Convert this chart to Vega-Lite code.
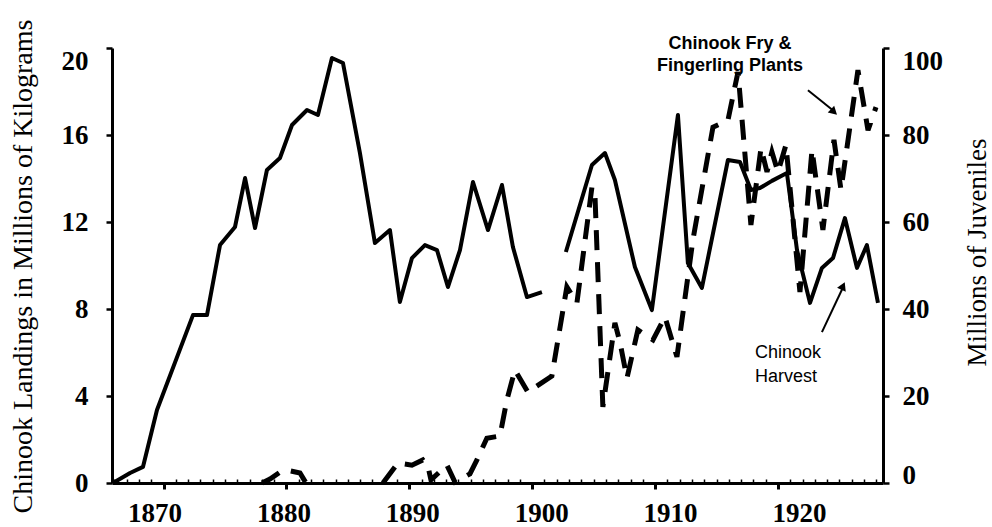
{
  "$schema": "https://vega.github.io/schema/vega-lite/v6.json",
  "width": 771,
  "height": 435,
  "autosize": {"type": "none"},
  "padding": {"left": 112, "top": 48, "right": 109, "bottom": 44},
  "background": "white",
  "config": {
    "view": {"stroke": null},
    "axis": {"grid": false, "domainColor": "black", "tickColor": "black", "labelColor": "black", "titleColor": "black"}
  },
  "datasets": {
    "harvest": [
      {"year": 1865.88, "landings": 0, "run": 1},
      {"year": 1867.27, "landings": 0.46, "run": 1},
      {"year": 1868.32, "landings": 0.74, "run": 1},
      {"year": 1869.46, "landings": 3.36, "run": 1},
      {"year": 1872.39, "landings": 7.72, "run": 1},
      {"year": 1873.53, "landings": 7.72, "run": 1},
      {"year": 1874.59, "landings": 10.94, "run": 1},
      {"year": 1875.81, "landings": 11.77, "run": 1},
      {"year": 1876.63, "landings": 14.02, "run": 1},
      {"year": 1877.44, "landings": 11.72, "run": 1},
      {"year": 1878.41, "landings": 14.39, "run": 1},
      {"year": 1879.47, "landings": 14.94, "run": 1},
      {"year": 1880.45, "landings": 16.46, "run": 1},
      {"year": 1881.67, "landings": 17.15, "run": 1},
      {"year": 1882.56, "landings": 16.92, "run": 1},
      {"year": 1883.7, "landings": 19.54, "run": 1},
      {"year": 1884.6, "landings": 19.31, "run": 1},
      {"year": 1885.98, "landings": 15.17, "run": 1},
      {"year": 1887.2, "landings": 11.03, "run": 1},
      {"year": 1888.42, "landings": 11.63, "run": 1},
      {"year": 1889.23, "landings": 8.32, "run": 1},
      {"year": 1890.21, "landings": 10.34, "run": 1},
      {"year": 1891.27, "landings": 10.94, "run": 1},
      {"year": 1892.25, "landings": 10.71, "run": 1},
      {"year": 1893.14, "landings": 9.01, "run": 1},
      {"year": 1894.12, "landings": 10.71, "run": 1},
      {"year": 1895.18, "landings": 13.84, "run": 1},
      {"year": 1896.4, "landings": 11.63, "run": 1},
      {"year": 1897.54, "landings": 13.7, "run": 1},
      {"year": 1898.43, "landings": 10.85, "run": 1},
      {"year": 1899.57, "landings": 8.55, "run": 1},
      {"year": 1900.79, "landings": 8.78, "run": 1},
      {"year": 1902.74, "landings": 10.62, "run": 2},
      {"year": 1904.86, "landings": 14.62, "run": 2},
      {"year": 1905.92, "landings": 15.17, "run": 2},
      {"year": 1906.73, "landings": 13.93, "run": 2},
      {"year": 1908.36, "landings": 9.93, "run": 2},
      {"year": 1909.74, "landings": 7.95, "run": 2},
      {"year": 1911.86, "landings": 16.92, "run": 2},
      {"year": 1912.67, "landings": 10.11, "run": 2},
      {"year": 1913.81, "landings": 8.97, "run": 2},
      {"year": 1915.93, "landings": 14.85, "run": 2},
      {"year": 1916.91, "landings": 14.76, "run": 2},
      {"year": 1917.8, "landings": 13.47, "run": 2},
      {"year": 1918.53, "landings": 13.56, "run": 2},
      {"year": 1919.51, "landings": 13.89, "run": 2},
      {"year": 1920.73, "landings": 14.25, "run": 2},
      {"year": 1921.55, "landings": 10.71, "run": 2},
      {"year": 1922.61, "landings": 8.28, "run": 2},
      {"year": 1923.58, "landings": 9.89, "run": 2},
      {"year": 1924.48, "landings": 10.34, "run": 2},
      {"year": 1925.45, "landings": 12.18, "run": 2},
      {"year": 1926.43, "landings": 9.89, "run": 2},
      {"year": 1927.24, "landings": 10.94, "run": 2},
      {"year": 1928.14, "landings": 8.28, "run": 2}
    ],
    "plants": [
      {"year": 1878.01, "juveniles": 0, "run": 1},
      {"year": 1878.66, "juveniles": 0.9, "run": 1},
      {"year": 1879.47, "juveniles": 2.5, "run": 1},
      {"year": 1880.28, "juveniles": 2.8, "run": 1},
      {"year": 1881.1, "juveniles": 2.3, "run": 1},
      {"year": 1881.59, "juveniles": 0, "run": 1},
      {"year": 1887.85, "juveniles": 0, "run": 2},
      {"year": 1889.07, "juveniles": 4.6, "run": 2},
      {"year": 1890.21, "juveniles": 4.1, "run": 2},
      {"year": 1891.1, "juveniles": 5.3, "run": 2},
      {"year": 1891.51, "juveniles": 3.9, "run": 2},
      {"year": 1891.76, "juveniles": 0.7, "run": 2},
      {"year": 1893.06, "juveniles": 4.1, "run": 2},
      {"year": 1893.71, "juveniles": 0.2, "run": 2},
      {"year": 1894.93, "juveniles": 2.1, "run": 2},
      {"year": 1895.5, "juveniles": 5.3, "run": 2},
      {"year": 1896.31, "juveniles": 10.3, "run": 2},
      {"year": 1897.37, "juveniles": 10.8, "run": 2},
      {"year": 1897.94, "juveniles": 19.1, "run": 2},
      {"year": 1898.59, "juveniles": 26.0, "run": 2},
      {"year": 1899.65, "juveniles": 20.9, "run": 2},
      {"year": 1901.6, "juveniles": 24.6, "run": 2},
      {"year": 1902.82, "juveniles": 45.1, "run": 2},
      {"year": 1903.64, "juveniles": 41.4, "run": 2},
      {"year": 1904.86, "juveniles": 68.0, "run": 2},
      {"year": 1905.1, "juveniles": 66.7, "run": 2},
      {"year": 1905.75, "juveniles": 17.5, "run": 2},
      {"year": 1906.73, "juveniles": 36.8, "run": 2},
      {"year": 1907.14, "juveniles": 32.4, "run": 2},
      {"year": 1907.71, "juveniles": 24.1, "run": 2},
      {"year": 1908.6, "juveniles": 35.2, "run": 2},
      {"year": 1909.83, "juveniles": 32.9, "run": 2},
      {"year": 1910.8, "juveniles": 38.2, "run": 2},
      {"year": 1911.78, "juveniles": 29.0, "run": 2},
      {"year": 1913.08, "juveniles": 55.9, "run": 2},
      {"year": 1914.71, "juveniles": 81.8, "run": 2},
      {"year": 1915.93, "juveniles": 83.4, "run": 2},
      {"year": 1916.75, "juveniles": 94.5, "run": 2},
      {"year": 1917.8, "juveniles": 59.3, "run": 2},
      {"year": 1918.62, "juveniles": 77.0, "run": 2},
      {"year": 1919.11, "juveniles": 71.5, "run": 2},
      {"year": 1919.51, "juveniles": 76.1, "run": 2},
      {"year": 1920.0, "juveniles": 71.5, "run": 2},
      {"year": 1920.65, "juveniles": 77.7, "run": 2},
      {"year": 1921.79, "juveniles": 43.9, "run": 2},
      {"year": 1922.77, "juveniles": 76.6, "run": 2},
      {"year": 1923.66, "juveniles": 58.2, "run": 2},
      {"year": 1924.56, "juveniles": 78.9, "run": 2},
      {"year": 1925.13, "juveniles": 67.4, "run": 2},
      {"year": 1926.51, "juveniles": 94.9, "run": 2},
      {"year": 1927.33, "juveniles": 81.1, "run": 2},
      {"year": 1927.98, "juveniles": 86.4, "run": 2}
    ]
  },
  "layer": [
    {
      "data": {"name": "harvest"},
      "mark": {"type": "line", "color": "black", "strokeWidth": 4, "strokeJoin": "round"},
      "encoding": {
        "x": {
          "field": "year", "type": "quantitative",
          "scale": {"domain": [1865.8, 1928.55], "nice": false, "zero": false},
          "axis": {
            "orient": "bottom", "title": null,
            "values": [1870, 1880, 1890, 1900, 1910, 1920], "format": "d",
            "labelFont": "Liberation Serif", "labelFontSize": 27, "labelFontWeight": "bold",
            "labelPadding": 11, "labelBaseline": "top",
            "labelOffset": {"expr": "(datum.value - 1885) * 0.6"},
            "tickSize": 6, "tickWidth": 3, "domainWidth": 3
          }
        },
        "y": {
          "field": "landings", "type": "quantitative",
          "scale": {"domain": [0, 20], "nice": false},
          "axis": {
            "orient": "left",
            "values": [0, 4, 8, 12, 16, 20],
            "labelFont": "Liberation Serif", "labelFontSize": 27, "labelFontWeight": "bold",
            "labelPadding": 18,
            "labelBaseline": {"condition": {"test": "datum.value == 20", "value": "top"}, "value": "middle"},
            "tickSize": 6, "tickWidth": 2.5, "domainWidth": 3,
            "title": "Chinook Landings in Millions of Kilograms",
            "titleFont": "Liberation Serif", "titleFontSize": 28, "titleFontWeight": "normal",
            "titleAngle": -90, "titleBaseline": "alphabetic", "titleAlign": "center",
            "titleX": -81, "titleY": 218
          }
        },
        "detail": {"field": "run", "type": "nominal"}
      }
    },
    {
      "data": {"name": "plants"},
      "mark": {"type": "line", "color": "black", "strokeWidth": 5, "strokeDash": [20, 12], "strokeCap": "butt"},
      "encoding": {
        "x": {
          "field": "year", "type": "quantitative",
          "axis": {
            "orient": "bottom", "title": null, "labels": false, "domain": false,
            "values": [1866, 1867, 1868, 1869, 1871, 1872, 1873, 1874, 1875, 1876, 1877, 1878, 1879, 1881, 1882, 1883, 1884, 1885, 1886, 1887, 1888, 1889, 1891, 1892, 1893, 1894, 1895, 1896, 1897, 1898, 1899, 1901, 1902, 1903, 1904, 1905, 1906, 1907, 1908, 1909, 1911, 1912, 1913, 1914, 1915, 1916, 1917, 1918, 1919, 1921, 1922, 1923, 1924, 1925, 1926, 1927, 1928],
            "tickSize": -4, "tickWidth": 1.5
          }
        },
        "y": {
          "field": "juveniles", "type": "quantitative",
          "scale": {"domain": [0, 100], "nice": false},
          "axis": {
            "orient": "right",
            "values": [0, 20, 40, 60, 80, 100],
            "labelFont": "Liberation Serif", "labelFontSize": 27, "labelFontWeight": "bold",
            "labelPadding": 13,
            "labelBaseline": {"condition": [{"test": "datum.value == 100", "value": "top"}, {"test": "datum.value == 0", "value": "alphabetic"}], "value": "middle"},
            "tickSize": 6, "tickWidth": 2.5, "domainWidth": 3,
            "title": "Millions of Juveniles",
            "titleFont": "Liberation Serif", "titleFontSize": 27, "titleFontWeight": "normal",
            "titleAngle": -90, "titleBaseline": "alphabetic", "titleAlign": "center",
            "titleX": 102, "titleY": 204
          }
        },
        "detail": {"field": "run", "type": "nominal"}
      }
    },
    {
      "data": {"values": [{}]},
      "layer": [
        {
          "mark": {"type": "text", "font": "Liberation Sans", "fontSize": 18, "fontWeight": "bold", "align": "center", "baseline": "middle", "lineBreak": "\n", "lineHeight": 22, "color": "black"},
          "encoding": {
            "x": {"datum": 1916.1, "type": "quantitative", "axis": null},
            "y": {"datum": 100.9, "type": "quantitative", "scale": {"domain": [0, 100], "nice": false}, "axis": null},
            "text": {"value": "Chinook Fry &\nFingerling Plants"}
          }
        },
        {
          "mark": {"type": "text", "font": "Liberation Sans", "fontSize": 18, "fontWeight": "normal", "align": "left", "baseline": "middle", "lineBreak": "\n", "lineHeight": 24, "color": "black"},
          "encoding": {
            "x": {"datum": 1918.13, "type": "quantitative", "axis": null},
            "y": {"datum": 29.9, "type": "quantitative", "axis": null},
            "text": {"value": "Chinook\nHarvest"}
          }
        },
        {
          "mark": {"type": "rule", "color": "black", "strokeWidth": 2},
          "encoding": {
            "x": {"datum": 1922.44, "type": "quantitative", "axis": null},
            "y": {"datum": 90.3, "type": "quantitative", "axis": null},
            "x2": {"datum": 1924.6},
            "y2": {"datum": 85.4}
          }
        },
        {
          "mark": {"type": "point", "shape": "triangle-up", "filled": true, "color": "black", "opacity": 1, "size": 90, "angle": 133},
          "encoding": {
            "x": {"datum": 1924.56, "type": "quantitative", "axis": null},
            "y": {"datum": 85.3, "type": "quantitative", "axis": null}
          }
        },
        {
          "mark": {"type": "rule", "color": "black", "strokeWidth": 2},
          "encoding": {
            "x": {"datum": 1923.58, "type": "quantitative", "axis": null},
            "y": {"datum": 34.7, "type": "quantitative", "axis": null},
            "x2": {"datum": 1925.3},
            "y2": {"datum": 45.0}
          }
        },
        {
          "mark": {"type": "point", "shape": "triangle-up", "filled": true, "color": "black", "opacity": 1, "size": 90, "angle": 24},
          "encoding": {
            "x": {"datum": 1925.3, "type": "quantitative", "axis": null},
            "y": {"datum": 45.3, "type": "quantitative", "axis": null}
          }
        }
      ]
    }
  ],
  "resolve": {"scale": {"y": "independent"}, "axis": {"x": "independent", "y": "independent"}}
}
